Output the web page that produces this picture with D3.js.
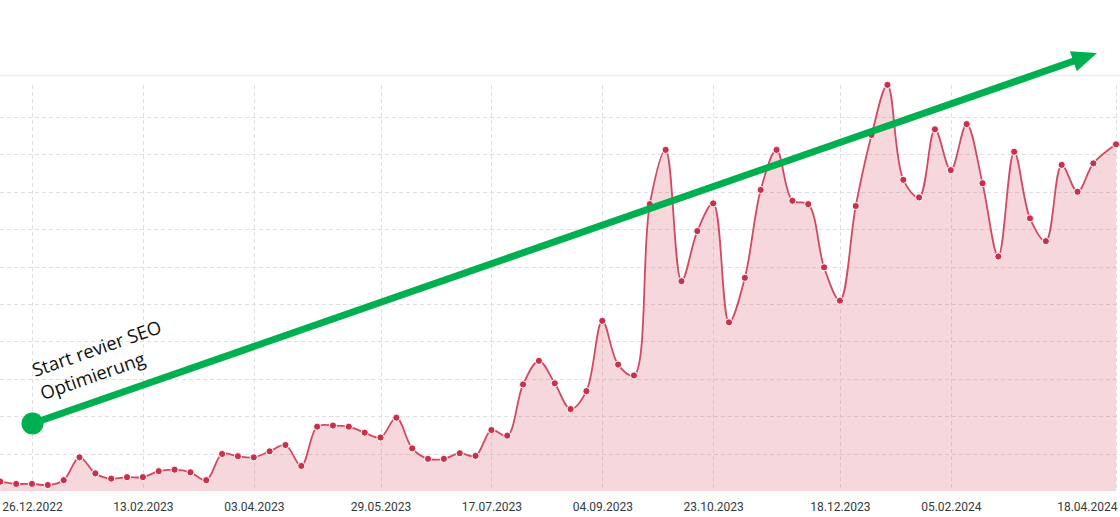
<!DOCTYPE html>
<html>
<head>
<meta charset="utf-8">
<script src="https://cdn.jsdelivr.net/npm/d3@7"></script>
<style>
  html, body { margin: 0; padding: 0; background: #fff; }
  #chart { width: 1120px; height: 517px; overflow: hidden; }
  .tick text { font-family: Roboto, sans-serif; font-size: 12px; fill: #333a3c; }
</style>
</head>
<body>
<div id="chart"></div>
<script>
// weekly data points (last one is a partial week)
var weeks = [
  "12.12.2022", "19.12.2022", "26.12.2022",
  "02.01.2023", "09.01.2023", "16.01.2023", "23.01.2023", "30.01.2023",
  "06.02.2023", "13.02.2023", "20.02.2023", "27.02.2023",
  "06.03.2023", "13.03.2023", "20.03.2023", "27.03.2023",
  "03.04.2023", "10.04.2023", "17.04.2023", "24.04.2023",
  "01.05.2023", "08.05.2023", "15.05.2023", "22.05.2023", "29.05.2023",
  "05.06.2023", "12.06.2023", "19.06.2023", "26.06.2023",
  "03.07.2023", "10.07.2023", "17.07.2023", "24.07.2023", "31.07.2023",
  "07.08.2023", "14.08.2023", "21.08.2023", "28.08.2023",
  "04.09.2023", "11.09.2023", "18.09.2023", "25.09.2023",
  "02.10.2023", "09.10.2023", "16.10.2023", "23.10.2023", "30.10.2023",
  "06.11.2023", "13.11.2023", "20.11.2023", "27.11.2023",
  "04.12.2023", "11.12.2023", "18.12.2023", "25.12.2023",
  "01.01.2024", "08.01.2024", "15.01.2024", "22.01.2024", "29.01.2024",
  "05.02.2024", "12.02.2024", "19.02.2024", "26.02.2024",
  "04.03.2024", "11.03.2024", "18.03.2024", "25.03.2024",
  "01.04.2024", "08.04.2024", "18.04.2024"
];

var visits = [
  25, 19, 19, 16, 29, 90, 47, 33, 37, 37,
  53, 57, 50, 29, 99, 93, 90, 106, 123, 67,
  172, 175, 172, 156, 143, 196, 114, 86, 86, 101,
  94, 163, 148, 285, 348, 288, 219, 267, 455, 338,
  309, 767, 912, 561, 695, 769, 451, 570, 805, 912,
  776, 767, 598, 509, 762, 952, 1086, 832, 785, 967,
  858, 981, 823, 627, 907, 729, 668, 872, 800, 876,
  927
];

// x axis labels
var tickDates = ["26.12.2022", "13.02.2023", "03.04.2023", "29.05.2023", "17.07.2023",
  "04.09.2023", "23.10.2023", "18.12.2023", "05.02.2024", "18.04.2024"];

// horizontal grid
var gridValues = [100, 200, 300, 400, 500, 600, 700, 800, 900, 1000];

var annotation = ["Start revier SEO", "Optimierung"];

var parseDate = d3.timeParse("%d.%m.%Y");
var formatDate = d3.timeFormat("%d.%m.%Y");

var svgWidth = 1120;
var svgHeight = 517;
var plotTop = 85;
var plotBottom = 491;

var data = weeks.map(function(w, i) {
  return { date: parseDate(w), value: visits[i] };
});

var svg = d3.select("#chart")
  .append("svg")
  .attr("width", svgWidth)
  .attr("height", svgHeight);

var x = d3.scaleTime()
  .domain([parseDate(tickDates[0]), parseDate(tickDates[tickDates.length - 1])])
  .range([32, 1116]);

var y = d3.scaleLinear()
  .domain([0, 1000])
  .range([plotBottom, 117]);

// top separator line
svg.append("line")
  .attr("x1", 0).attr("x2", svgWidth)
  .attr("y1", 75.5).attr("y2", 75.5)
  .attr("stroke", "#ececec")
  .attr("stroke-width", 1.5);

// grid
var grid = svg.append("g").attr("class", "grid");
grid.selectAll("line.h")
  .data(gridValues)
  .enter()
  .append("line")
  .attr("class", "h")
  .attr("x1", 0).attr("x2", svgWidth)
  .attr("y1", d => Math.round(y(d)) + 0.5)
  .attr("y2", d => Math.round(y(d)) + 0.5)
  .attr("stroke", "#e0e0e0")
  .attr("stroke-dasharray", "4,3");

grid.selectAll("line.v")
  .data(tickDates)
  .enter()
  .append("line")
  .attr("class", "v")
  .attr("x1", d => Math.round(x(parseDate(d))) + 0.5)
  .attr("x2", d => Math.round(x(parseDate(d))) + 0.5)
  .attr("y1", plotTop).attr("y2", plotBottom)
  .attr("stroke", "#e0e0e0")
  .attr("stroke-dasharray", "4,3");

// area + line
var curve = d3.curveCatmullRom.alpha(0.5);

var area = d3.area()
  .x(d => x(d.date))
  .y0(plotBottom)
  .y1(d => y(d.value))
  .curve(curve);

var line = d3.line()
  .x(d => x(d.date))
  .y(d => y(d.value))
  .curve(curve);

svg.append("path")
  .datum(data)
  .attr("d", area)
  .attr("fill", "#d1475f")
  .attr("fill-opacity", 0.22);

svg.append("path")
  .datum(data)
  .attr("d", line)
  .attr("fill", "none")
  .attr("stroke", "#cf4a62")
  .attr("stroke-width", 1.8);

svg.selectAll("circle.pt")
  .data(data)
  .enter()
  .append("circle")
  .attr("class", "pt")
  .attr("cx", d => x(d.date))
  .attr("cy", d => y(d.value))
  .attr("r", 3.6)
  .attr("fill", "#c8304b")
  .attr("stroke", "#fff")
  .attr("stroke-width", 1);

// x axis labels
var xAxis = d3.axisBottom(x)
  .tickValues(tickDates.map(parseDate))
  .tickFormat(formatDate)
  .tickSize(0)
  .tickPadding(11);

var axisG = svg.append("g")
  .attr("transform", "translate(0," + plotBottom + ")")
  .call(xAxis);
axisG.select(".domain").remove();
// last label is pushed inside the chart
axisG.selectAll(".tick:last-of-type text").attr("text-anchor", "end").attr("dx", "1px");

// green trend arrow
var start = [32.5, 423.5];
var tip = [1097, 53];
var dx = tip[0] - start[0], dy = tip[1] - start[1];
var len = Math.sqrt(dx * dx + dy * dy);
var ux = dx / len, uy = dy / len;
var headLen = 25, headHalf = 10.5;
var back = [tip[0] - ux * headLen, tip[1] - uy * headLen];

var arrow = svg.append("g");
arrow.append("line")
  .attr("x1", start[0]).attr("y1", start[1])
  .attr("x2", back[0] + ux * 2).attr("y2", back[1] + uy * 2)
  .attr("stroke", "#00b050")
  .attr("stroke-width", 7);
arrow.append("path")
  .attr("d", "M" + tip[0] + "," + tip[1] +
    "L" + (back[0] - uy * headHalf) + "," + (back[1] + ux * headHalf) +
    "L" + (back[0] + uy * headHalf) + "," + (back[1] - ux * headHalf) + "Z")
  .attr("fill", "#00b050");
arrow.append("circle")
  .attr("cx", start[0]).attr("cy", start[1])
  .attr("r", 11)
  .attr("fill", "#00b050");

// annotation text, left aligned along the arrow direction
var angle = Math.atan2(dy, dx) * 180 / Math.PI;
var label = svg.append("text")
  .attr("transform", "translate(35,377) rotate(" + angle + ")")
  .attr("text-anchor", "start")
  .attr("font-family", "'Open Sans', sans-serif")
  .attr("font-size", 18.5)
  .attr("fill", "#111");
label.selectAll("tspan")
  .data(annotation)
  .enter()
  .append("tspan")
  .attr("x", 0)
  .attr("y", (d, i) => i * 24.5)
  .text(d => d);
</script>
</body>
</html>
